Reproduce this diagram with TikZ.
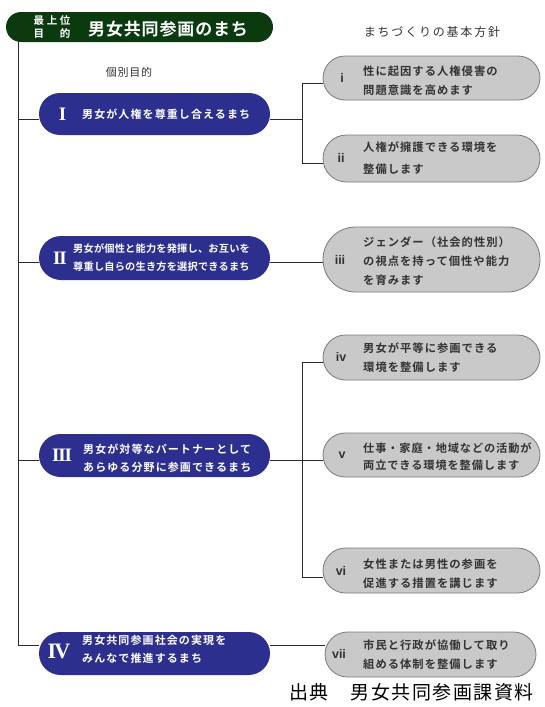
\documentclass[tikz,border=0pt]{standalone}
\usepackage{fontspec}
\setmainfont{Noto Sans CJK JP}[BoldFont={Noto Sans CJK JP Bold}]
\newfontfamily\romf{Liberation Serif}
\newfontfamily\numf{Liberation Sans}
\usetikzlibrary{shapes.misc,backgrounds}
\definecolor{pblue}{HTML}{2D2F8E}
\definecolor{pgreen}{HTML}{0A3A0E}
\definecolor{pgray}{HTML}{C9C9C9}
\definecolor{pgrayd}{HTML}{7A7A7A}
\definecolor{tgray}{HTML}{333333}
\definecolor{lgray}{HTML}{2A2A2A}
\tikzset{
  bluepill/.style={rounded rectangle, fill=pblue, minimum width=231pt, inner sep=0pt},
  graypill/.style={rounded rectangle, fill=pgray, draw=pgrayd, line width=0.8pt, minimum width=217pt, inner sep=0pt},
  bluetxt/.style={anchor=west, inner sep=0pt, text=white, align=left,
    font=\fontsize{11}{18}\selectfont\bfseries\addfontfeatures{LetterSpace=10}},
  bluetxtb/.style={anchor=west, inner sep=0pt, text=white, align=left,
    font=\fontsize{10.2}{18}\selectfont\bfseries\addfontfeatures{LetterSpace=2}},
  romnum/.style={inner sep=0pt, text=white, font=\romf\fontsize{19}{19}\selectfont\bfseries\addfontfeatures{LetterSpace=-6}},
  graytxt/.style={anchor=west, inner sep=0pt, text=tgray, align=left,
    font=\fontsize{11.3}{19}\selectfont\bfseries\addfontfeatures{LetterSpace=9}},
  smallnum/.style={inner sep=0pt, text=tgray, font=\numf\fontsize{12.5}{12}\selectfont\bfseries},
  conn/.style={draw=lgray, line width=0.9pt},
  heading/.style={inner sep=0pt, text=tgray, font=\fontsize{12}{13}\selectfont\addfontfeatures{LetterSpace=15}}
}
\begin{document}
\begin{tikzpicture}[x=1pt,y=-1pt]
\useasboundingbox (0,0) rectangle (544,707);
% title
\node[rounded rectangle, fill=pgreen, minimum width=267pt, minimum height=30pt, inner sep=0pt] (title) at (139.5,27) {};
\node[inner sep=0pt, text=white, align=left, font=\fontsize{10.5}{13}\selectfont\bfseries\addfontfeatures{LetterSpace=25}] (toplab) at (52,27) {最上位\\目　的};
\node[anchor=west, inner sep=0pt, text=white, font=\fontsize{17}{17}\selectfont\bfseries\addfontfeatures{LetterSpace=5}] (titletxt) at (88,29) {男女共同参画のまち};
% headings
\node[heading] (h1) at (432,32) {まちづくりの基本方針};
\node[heading, font=\fontsize{11}{13}\selectfont\addfontfeatures{LetterSpace=7}] (h2) at (129,72) {個別目的};
% blue pills
\node[bluepill, minimum height=42pt] (b1) at (154.5,114) {};
\node[bluepill, minimum height=44pt] (b2) at (154.5,258) {};
\node[bluepill, minimum height=43pt] (b3) at (154.5,455.5) {};
\node[bluepill, minimum height=43pt] (b4) at (154.5,653.5) {};
\node[romnum] (n1) at (62.5,114) {I};
\node[romnum] (n2) at (60,258) {II};
\node[romnum] (n3) at (62,455) {III};
\node[romnum, font=\romf\fontsize{22}{22}\selectfont\bfseries\addfontfeatures{LetterSpace=-8}] (n4) at (59,651) {IV};
\node[bluetxt] (t1) at (82,114) {男女が人権を尊重し合えるまち};
\node[bluetxtb] (t2) at (73,258) {男女が個性と能力を発揮し、お互いを\\尊重し自らの生き方を選択できるまち};
\node[bluetxt] (t3) at (83,458) {男女が対等なパートナーとして\\あらゆる分野に参画できるまち};
\node[bluetxt] (t4) at (82,649) {男女共同参画社会の実現を\\みんなで推進するまち};
% gray pills
\node[graypill, minimum height=44pt] (g1) at (431.5,78) {};
\node[graypill, minimum height=47pt] (g2) at (431.5,158.5) {};
\node[graypill, minimum height=65pt] (g3) at (431.5,259.5) {};
\node[graypill, minimum height=45pt] (g4) at (431.5,357.5) {};
\node[graypill, minimum height=44pt] (g5) at (431.5,455) {};
\node[graypill, minimum height=45pt] (g6) at (431.5,570.5) {};
\node[graypill, minimum height=45pt, minimum width=211pt] (g7) at (430.5,654.5) {};
\node[smallnum] (s1) at (342,78) {i};
\node[smallnum] (s2) at (341,158) {ii};
\node[smallnum] (s3) at (340,260) {iii};
\node[smallnum] (s4) at (341,357) {iv};
\node[smallnum] (s5) at (342,455) {v};
\node[smallnum] (s6) at (341,571) {vi};
\node[smallnum] (s7) at (339,654) {vii};
\node[graytxt] (u1) at (363,80.5) {性に起因する人権侵害の\\問題意識を高めます};
\node[graytxt, font=\fontsize{11.3}{22}\selectfont\bfseries\addfontfeatures{LetterSpace=9}] (u2) at (363,158.5) {人権が擁護できる環境を\\整備します};
\node[graytxt] (u3) at (363,261) {ジェンダー（社会的性別）\\の視点を持って個性や能力\\を育みます};
\node[graytxt] (u4) at (363,357.5) {男女が平等に参画できる\\環境を整備します};
\node[graytxt, font=\fontsize{11.2}{17}\selectfont\bfseries\addfontfeatures{LetterSpace=8}] (u5) at (363,456.5) {仕事・家庭・地域などの活動が\\両立できる環境を整備します};
\node[graytxt] (u6) at (363,574) {女性または男性の参画を\\促進する措置を講じます};
\node[graytxt] (u7) at (363,654.5) {市民と行政が協働して取り\\組める体制を整備します};
% source
\node[anchor=west, inner sep=0pt, font=\fontsize{19}{19}\selectfont\addfontfeatures{LetterSpace=8}] (src) at (289,692) {出典　男女共同参画課資料};
% connectors
\coordinate (top) at (18,15);
\coordinate (j1) at (18,119);
\coordinate (j2) at (18,262);
\coordinate (j3) at (18,460);
\coordinate (j4) at (18,645);
\coordinate (r1) at (302,119);
\coordinate (r1a) at (302,83);
\coordinate (r1b) at (302,163);
\coordinate (r3) at (302,460);
\coordinate (r3a) at (302,362);
\coordinate (r3b) at (302,577);
\draw[conn] (top) -- (j4);
\begin{scope}[on background layer]
\draw[conn] (j1) -- (j1 -| b1.west);
\draw[conn] (j2) -- (j2 -| b2.west);
\draw[conn] (j3) -- (j3 -| b3.west);
\draw[conn] (j4) -- (j4 -| b4.west);
\draw[conn] (r1 -| b1.east) -- (r1);
\draw[conn] (r1a) -- (r1b);
\draw[conn] (r1a) -- (r1a -| g1.west);
\draw[conn] (r1b) -- (r1b -| g2.west);
\draw[conn] (j2 -| b2.east) -- (j2 -| g3.west);
\draw[conn] (r3 -| b3.east) -- (r3 -| g5.west);
\draw[conn] (r3a) -- (r3b);
\draw[conn] (r3a) -- (r3a -| g4.west);
\draw[conn] (r3b) -- (r3b -| g6.west);
\draw[conn] (j4 -| b4.east) -- (j4 -| g7.west);
\end{scope}
\end{tikzpicture}
\end{document}
